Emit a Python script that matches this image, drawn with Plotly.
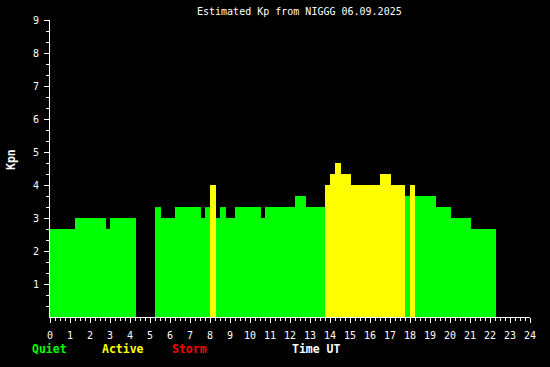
import plotly.graph_objects as go

# Segment boundaries (hours UT) and Kp values
seg_start = [0.0, 1.25, 2.8, 3.0, 5.25, 5.55, 6.25, 7.55, 7.75, 8.0, 8.3, 8.5, 8.8, 9.25,
             10.55, 10.75, 12.25, 12.8, 13.75, 14.0, 14.25, 14.55, 15.05, 16.5, 17.05,
             17.75, 18.0, 18.25, 19.3, 20.05, 21.05]
seg_end = [1.25, 2.8, 3.0, 4.3, 5.55, 6.25, 7.55, 7.75, 8.0, 8.3, 8.5, 8.8, 9.25, 10.55,
           10.75, 12.25, 12.8, 13.75, 14.0, 14.25, 14.55, 15.05, 16.5, 17.05, 17.75,
           18.0, 18.25, 19.3, 20.05, 21.05, 22.3]
kp_values = [2.67, 3.0, 2.67, 3.0, 3.33, 3.0, 3.33, 3.0, 3.33, 4.0, 3.0, 3.33, 3.0, 3.33,
             3.0, 3.33, 3.67, 3.33, 4.0, 4.33, 4.67, 4.33, 4.0, 4.33, 4.0,
             3.67, 4.0, 3.67, 3.33, 3.0, 2.67]

x_ticks = list(range(0, 25))
y_ticks = list(range(1, 10))
y_minor = [i + f for i in range(0, 9) for f in (1 / 3, 2 / 3)]

title_text = "Estimated Kp from NIGGG 06.09.2025"
legend_items = [("Quiet", "#00FF00", 30), ("Active", "#FFFF00", 100), ("Storm", "#FF0000", 170),
                ("Time UT", "#FFFFFF", 290)]

GREEN, YELLOW, RED = "#00FF00", "#FFFF00", "#FF0000"


def color_for(v):
    if v >= 5:
        return RED
    if v >= 4:
        return YELLOW
    return GREEN


centers = [(a + b) / 2 for a, b in zip(seg_start, seg_end)]
widths = [b - a for a, b in zip(seg_start, seg_end)]
colors = [color_for(v) for v in kp_values]

fig = go.Figure(go.Bar(x=centers, y=kp_values, width=widths,
                       marker=dict(color=colors, line=dict(width=0)),
                       hoverinfo="skip"))

W, H = 550, 367
L, R, T, B = 50, 20, 20, 50
mono = "DejaVu Sans Mono"

fig.update_layout(
    width=W, height=H,
    margin=dict(l=L, r=R, t=T, b=B, pad=0),
    paper_bgcolor="black", plot_bgcolor="black",
    showlegend=False,
    xaxis=dict(range=[0, 24], tickvals=x_ticks, ticks="outside", ticklen=5, tickwidth=1,
               tickcolor="white", showline=True, linecolor="white", linewidth=1,
               showgrid=False, zeroline=False, layer="below traces", ticklabelstandoff=4,
               tickfont=dict(family=mono, size=10, color="white"),
               minor=dict(dtick=0.25, tick0=0, ticks="outside", ticklen=3, tickcolor="white",
                          tickwidth=1, showgrid=False)),
    yaxis=dict(range=[0, 9], tickvals=y_ticks, ticks="outside", ticklen=5, tickwidth=1,
               tickcolor="white", showline=True, linecolor="white", linewidth=1,
               showgrid=False, zeroline=False, layer="below traces", ticklabelstandoff=3,
               tickfont=dict(family=mono, size=10, color="white"),
               minor=dict(tickvals=y_minor, ticks="outside", ticklen=3, tickcolor="white",
                          tickwidth=1, showgrid=False)),
)

pw, ph = W - L - R, H - T - B


def px_x(px):
    return (px - L) / pw


def px_y(py):
    return (H - B - py) / ph


annotations = [dict(text=title_text, x=px_x(299.5), y=px_y(12), xref="paper", yref="paper",
                    xanchor="center", yanchor="middle", showarrow=False,
                    font=dict(family=mono, size=10, color="white")),
               dict(text="<b>Kpn</b>", x=px_x(11), y=px_y(160), xref="paper", yref="paper",
                    xanchor="center", yanchor="middle", showarrow=False, textangle=-90,
                    font=dict(family=mono, size=11.5, color="white"))]
for label, col, xpos in legend_items:
    annotations.append(dict(text="<b>" + label + "</b>", x=px_x(xpos), y=px_y(349),
                            xref="paper", yref="paper", xanchor="left", yanchor="middle",
                            showarrow=False, font=dict(family=mono, size=11.5, color=col)))
fig.update_layout(annotations=annotations)

fig.write_html("out.html")
